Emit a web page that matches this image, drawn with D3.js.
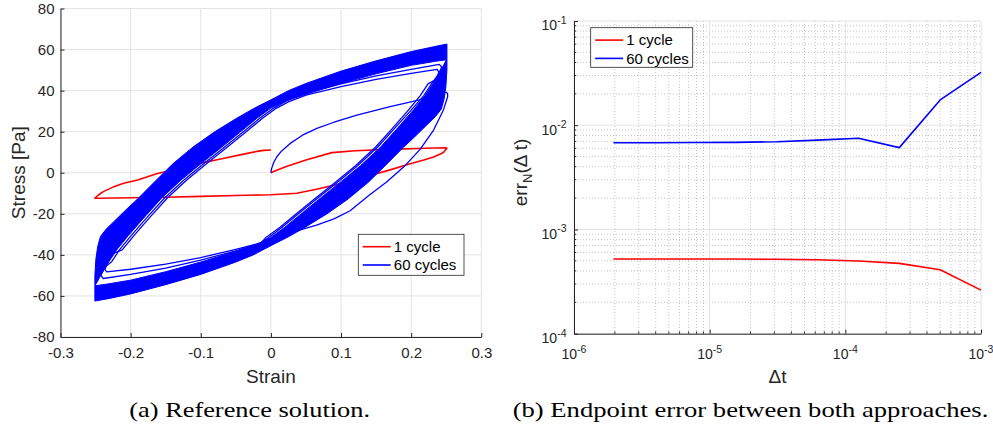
<!DOCTYPE html>
<html>
<head>
<meta charset="utf-8">
<script src="https://cdn.jsdelivr.net/npm/d3@7"></script>
<style>
  body { margin: 0; background: #fff; }
  svg text { font-family: "Liberation Sans", Arial, Helvetica, sans-serif; fill: #262626; }
  svg text.caption { font-family: "Liberation Serif", "Times New Roman", serif; fill: #000; }
</style>
</head>
<body>
<svg id="fig" width="993" height="427"></svg>
<script>
  // ---------- data: panel (a), [strain, stress] ----------
  const strainTicks = [-0.3, -0.2, -0.1, 0, 0.1, 0.2, 0.3];
  const stressTicks = [-80, -60, -40, -20, 0, 20, 40, 60, 80];
  const seriesNames = ["1 cycle", "60 cycles"];
  const seriesColors = ["#ff0000", "#0000ff"];

  const redCycle = [
    [0, 0], [0.003, 0.5], [0.02, 2.8], [0.05, 6.2], [0.087, 9.8], [0.12, 10.7],
    [0.17, 11.4], [0.22, 11.9], [0.249, 12.2], [0.251, 11.9], [0.247, 10.3],
    [0.244, 9.5], [0.232, 7.7], [0.218, 6.2], [0.195, 4], [0.17, 1.4], [0.145, -1],
    [0.123, -3.4], [0.092, -5.9], [0.065, -8], [0.037, -10], [0, -10.7],
    [-0.05, -11.1], [-0.1, -11.5], [-0.15, -11.9], [-0.2, -12.2], [-0.245, -12.4],
    [-0.251, -12.4], [-0.245, -10.6], [-0.239, -9.2], [-0.225, -7], [-0.21, -5.1],
    [-0.19, -3.5], [-0.163, -0.5], [-0.13, 2.2], [-0.1, 4.7], [-0.07, 6.8],
    [-0.044, 8.7], [-0.02, 10.4], [-0.01, 10.9], [0, 11.1]
  ];

  // 60 cycles: initial loading and first unloading
  const blueFirst = [
    [0, 0], [0.001, 2], [0.004, 5], [0.0085, 7.8], [0.015, 10.5], [0.0275, 14.3],
    [0.045, 18.3], [0.0656, 21.6], [0.09, 24.6], [0.1226, 28.1], [0.17, 32.2],
    [0.2105, 35.4], [0.239, 38.2], [0.25, 39.3], [0.252, 38.5], [0.252, 37],
    [0.246, 30.6], [0.232, 20.8], [0.213, 11.5], [0.19, 3], [0.165, -4.5],
    [0.14, -11], [0.113, -18.5], [0.09, -22.5], [0.065, -25.5], [0.042, -27.8],
    [0.02, -30.5], [0, -33]
  ];
  // cycles 2 and 3, which stand apart from the dense band
  const blueCycle2 = [
    [0, -33], [-0.015, -34.3], [-0.05, -37.3], [-0.1, -41.3], [-0.15, -44.5], [-0.2, -47],
    [-0.234, -48.3], [-0.2365, -47.2], [-0.233, -43.3], [-0.223, -39], [-0.212, -37.6],
    [-0.195, -30.5], [-0.172, -21.5], [-0.148, -12.4], [-0.12, -3.5], [-0.091, 4.6],
    [-0.062, 12.5], [-0.037, 19.5], [-0.012, 26.5], [0.008, 31.5], [0.025, 34.5],
    [0.05, 37.8], [0.1, 42], [0.15, 45.5], [0.2, 48.4], [0.237, 50.3], [0.2395, 49],
    [0.236, 45.5], [0.224, 43.3], [0.213, 37.6], [0.196, 30.5], [0.173, 21.5],
    [0.149, 12.4], [0.121, 3.5], [0.092, -4.6], [0.063, -12.5], [0.038, -19.5],
    [0.013, -26.5], [-0.007, -31.5], [-0.015, -34.6]
  ];
  const blueCycle3 = [
    [-0.015, -34.6], [-0.05, -38], [-0.1, -42.6], [-0.15, -46.5], [-0.2, -49.5],
    [-0.239, -51.5], [-0.2425, -50], [-0.237, -46], [-0.227, -43.3], [-0.216, -37.6],
    [-0.199, -30.5], [-0.176, -21.5], [-0.152, -12.4], [-0.124, -3.5], [-0.095, 4.6],
    [-0.066, 12.5], [-0.041, 19.5], [-0.016, 26.5], [0.004, 31.5], [0.022, 35],
    [0.05, 38.8], [0.1, 43.3], [0.15, 47.2], [0.2, 50.4], [0.24, 52.8], [0.2435, 51.5],
    [0.239, 48], [0.229, 43.3], [0.218, 37.6], [0.2, 30.5], [0.176, 21.5], [0.152, 12.4],
    [0.124, 3.5], [0.095, -4.6], [0.066, -12.5], [0.041, -19.5], [0.016, -26.5],
    [-0.003, -31.5], [-0.015, -34.2]
  ];
  // dense band of later cycles: outer and inner loop edges
  const bandOuterUpper = [
    [-0.251, -62.5], [-0.251, -50], [-0.2495, -42], [-0.247, -36], [-0.243, -31],
    [-0.235, -27.5], [-0.22, -22.5], [-0.205, -17.5], [-0.189, -12.4], [-0.164, -3.8],
    [-0.139, 4.6], [-0.11, 12.8], [-0.08, 20], [-0.05, 26.3], [-0.025, 31.2], [0, 35.5],
    [0.025, 40], [0.05, 43.5], [0.1, 49.5], [0.15, 54.5], [0.2, 59], [0.23, 61.2], [0.251, 62.7]
  ];
  const bandOuterLower = [
    [0.251, 62.7], [0.251, 50], [0.2495, 42], [0.247, 36], [0.243, 31], [0.235, 27.5],
    [0.22, 22.5], [0.205, 17.5], [0.189, 12.4], [0.164, 3.8], [0.139, -4.6], [0.11, -12.8],
    [0.08, -20], [0.05, -26.3], [0.025, -31.2], [0, -35.5], [-0.025, -40], [-0.05, -43.5],
    [-0.1, -49.5], [-0.15, -54.5], [-0.2, -59], [-0.23, -61.2], [-0.251, -62.5]
  ];
  const bandInnerUpper = [
    [-0.25, -54.5], [-0.245, -51.5], [-0.241, -49], [-0.231, -43.3], [-0.22, -37.6],
    [-0.203, -30.5], [-0.18, -21.5], [-0.156, -12.4], [-0.128, -3.5], [-0.099, 4.6],
    [-0.07, 12.5], [-0.045, 19.5], [-0.02, 26.5], [0, 31.5], [0.015, 34], [0.03, 36],
    [0.06, 39.3], [0.1, 43.5], [0.15, 48.2], [0.2, 52.3], [0.235, 54.3], [0.25, 55]
  ];
  const bandInnerLower = [
    [0.25, 55], [0.245, 51.5], [0.241, 49], [0.231, 43.3], [0.22, 37.6], [0.203, 30.5],
    [0.18, 21.5], [0.156, 12.4], [0.128, 3.5], [0.099, -4.6], [0.07, -12.5],
    [0.045, -19.5], [0.02, -26.5], [0, -31.5], [-0.015, -34], [-0.03, -36],
    [-0.06, -39.3], [-0.1, -43.5], [-0.15, -48.2], [-0.2, -52.3], [-0.235, -54.3], [-0.25, -55]
  ];

  // ---------- data: panel (b) ----------
  const dtValues = [1.953125e-6, 3.90625e-6, 7.8125e-6, 1.5625e-5, 3.125e-5, 6.25e-5, 1.25e-4, 2.5e-4, 5e-4, 1e-3];
  const err1Cycle = [5.2e-4, 5.2e-4, 5.2e-4, 5.2e-4, 5.18e-4, 5.12e-4, 4.98e-4, 4.73e-4, 4.11e-4, 2.62e-4];
  const err60Cycles = [6.8e-3, 6.8e-3, 6.82e-3, 6.85e-3, 6.95e-3, 7.2e-3, 7.5e-3, 6.1e-3, 1.75e-2, 3.22e-2];
  const dtTicks = [1e-6, 1e-5, 1e-4, 1e-3];
  const errTicks = [1e-4, 1e-3, 1e-2, 1e-1];

  const captions = ["(a) Reference solution.", "(b) Endpoint error between both approaches."];

  // ---------- layout ----------
  const A = { left: 60.5, right: 481.3, top: 8.5, bottom: 337 };
  const B = { left: 574, right: 981, top: 21, bottom: 333.7 };
  const axisColor = "#262626";
  const gridColor = "#e3e3e3";
  const minorGridColor = "#c4c4c4";

  const svg = d3.select("#fig");

  function legend(g, x0, y0, w, h) {
    const lg = g.append("g").attr("transform", `translate(${x0},${y0})`);
    lg.append("rect").attr("width", w).attr("height", h)
      .attr("fill", "#fff").attr("stroke", axisColor).attr("stroke-width", 0.8);
    seriesNames.forEach((name, i) => {
      const cy = 12.4 + i * 18.3;
      lg.append("line").attr("x1", 4.4).attr("x2", 32.4).attr("y1", cy).attr("y2", cy)
        .attr("stroke", seriesColors[i]).attr("stroke-width", 1.6);
      lg.append("text").attr("x", 35.5).attr("y", cy + 5.3)
        .attr("font-size", 15).style("fill", "#000").text(name);
    });
  }

  // ---------- panel (a) ----------
  const x1 = d3.scaleLinear().domain([-0.3, 0.3]).range([A.left, A.right]);
  const y1 = d3.scaleLinear().domain([-80, 80]).range([A.bottom, A.top]);
  const pa = svg.append("g");

  pa.append("g").selectAll("line").data(strainTicks).join("line")
    .attr("x1", d => x1(d)).attr("x2", d => x1(d))
    .attr("y1", A.top).attr("y2", A.bottom).attr("stroke", gridColor);
  pa.append("g").selectAll("line").data(stressTicks).join("line")
    .attr("y1", d => y1(d)).attr("y2", d => y1(d))
    .attr("x1", A.left).attr("x2", A.right).attr("stroke", gridColor);

  const line1 = d3.line().x(d => x1(d[0])).y(d => y1(d[1]));

  pa.append("path").attr("d", line1(redCycle))
    .attr("fill", "none").attr("stroke", seriesColors[0])
    .attr("stroke-width", 1.6).attr("stroke-linejoin", "round");

  const bandPath = line1(bandOuterUpper.concat(bandOuterLower)) + "Z" +
    line1(bandInnerUpper.concat(bandInnerLower)) + "Z";
  pa.append("path").attr("d", bandPath)
    .attr("fill", seriesColors[1]).attr("fill-rule", "evenodd")
    .attr("stroke", seriesColors[1]).attr("stroke-width", 1).attr("stroke-linejoin", "round");

  [blueFirst, blueCycle2, blueCycle3].forEach(pts => {
    pa.append("path").attr("d", line1(pts))
      .attr("fill", "none").attr("stroke", seriesColors[1])
      .attr("stroke-width", 1.3).attr("stroke-linejoin", "round");
  });

  const ax1 = pa.append("g").attr("transform", `translate(0,${A.bottom})`)
    .call(d3.axisBottom(x1).tickValues(strainTicks).tickSize(-4).tickSizeOuter(0)
      .tickPadding(10).tickFormat(d => String(d)));
  const ay1 = pa.append("g").attr("transform", `translate(${A.left},0)`)
    .call(d3.axisLeft(y1).tickValues(stressTicks).tickSize(-4).tickSizeOuter(0)
      .tickPadding(6).tickFormat(d => String(d)));
  [ax1, ay1].forEach(a => a.attr("color", axisColor).attr("font-size", 15));

  pa.append("text").attr("x", (A.left + A.right) / 2).attr("y", 382.5)
    .attr("text-anchor", "middle").attr("font-size", 19).text("Strain");
  pa.append("text").attr("transform", "translate(25,172.7) rotate(-90)")
    .attr("text-anchor", "middle").attr("font-size", 19).text("Stress [Pa]");

  legend(pa, 358.3, 234.3, 105.7, 41);

  // ---------- panel (b) ----------
  const x2 = d3.scaleLog().domain([1e-6, 1e-3]).range([B.left, B.right]);
  const y2 = d3.scaleLog().domain([1e-4, 1e-1]).range([B.bottom, B.top]);
  const pb = svg.append("g");

  const isMinor = d => Math.abs(Math.log10(d) - Math.round(Math.log10(d))) > 1e-6;
  const xMinor = x2.ticks().filter(isMinor);
  const yMinor = y2.ticks().filter(isMinor);

  pb.append("g").selectAll("line").data(xMinor).join("line")
    .attr("x1", d => x2(d)).attr("x2", d => x2(d))
    .attr("y1", B.top).attr("y2", B.bottom)
    .attr("stroke", minorGridColor).attr("stroke-dasharray", "1,2");
  pb.append("g").selectAll("line").data(yMinor).join("line")
    .attr("y1", d => y2(d)).attr("y2", d => y2(d))
    .attr("x1", B.left).attr("x2", B.right)
    .attr("stroke", minorGridColor).attr("stroke-dasharray", "1,2");
  pb.append("g").selectAll("line").data(dtTicks).join("line")
    .attr("x1", d => x2(d)).attr("x2", d => x2(d))
    .attr("y1", B.top).attr("y2", B.bottom).attr("stroke", gridColor);
  pb.append("g").selectAll("line").data(errTicks).join("line")
    .attr("y1", d => y2(d)).attr("y2", d => y2(d))
    .attr("x1", B.left).attr("x2", B.right).attr("stroke", gridColor);

  const line2 = d3.line().x(d => x2(d[0])).y(d => y2(d[1]));
  [err1Cycle, err60Cycles].forEach((vals, i) => {
    pb.append("path").attr("d", line2(dtValues.map((t, k) => [t, vals[k]])))
      .attr("fill", "none").attr("stroke", seriesColors[i])
      .attr("stroke-width", 1.6).attr("stroke-linejoin", "round");
  });

  const ax2 = pb.append("g").attr("transform", `translate(0,${B.bottom})`)
    .call(d3.axisBottom(x2).tickValues(dtTicks).tickSize(-4).tickSizeOuter(0).tickFormat(""));
  const ay2 = pb.append("g").attr("transform", `translate(${B.left},0)`)
    .call(d3.axisLeft(y2).tickValues(errTicks).tickSize(-4).tickSizeOuter(0).tickFormat(""));
  [ax2, ay2].forEach(a => a.attr("color", axisColor));

  // minor ticks
  pb.append("g").selectAll("line").data(xMinor).join("line")
    .attr("x1", d => x2(d)).attr("x2", d => x2(d))
    .attr("y1", B.bottom).attr("y2", B.bottom - 2.2).attr("stroke", axisColor);
  pb.append("g").selectAll("line").data(yMinor).join("line")
    .attr("y1", d => y2(d)).attr("y2", d => y2(d))
    .attr("x1", B.left).attr("x2", B.left + 2.2).attr("stroke", axisColor);

  // power-of-ten tick labels
  function powLabel(sel) {
    sel.append("tspan").text("10");
    sel.append("tspan").attr("dy", -6.5).attr("font-size", 10.5)
      .text(d => String(Math.round(Math.log10(d))));
  }
  pb.append("g").selectAll("text").data(dtTicks).join("text")
    .attr("x", d => x2(d)).attr("y", B.bottom + 25.5)
    .attr("text-anchor", "middle").attr("font-size", 14).call(powLabel);
  pb.append("g").selectAll("text").data(errTicks).join("text")
    .attr("x", B.left - 7.5).attr("y", d => y2(d) + 9.3)
    .attr("text-anchor", "end").attr("font-size", 14).call(powLabel);

  pb.append("text").attr("x", (B.left + B.right) / 2).attr("y", 382.5)
    .attr("text-anchor", "middle").attr("font-size", 19).text("\u0394t");
  const yl = pb.append("text").attr("transform", "translate(526.5,172.5) rotate(-90)")
    .attr("text-anchor", "middle").attr("font-size", 19);
  yl.append("tspan").text("err");
  yl.append("tspan").attr("dy", 5).attr("font-size", 13).text("N");
  yl.append("tspan").attr("dy", -5).text("(\u0394 t)");

  legend(pb, 590.7, 27.7, 102, 39.6);

  // ---------- captions ----------
  svg.append("text").attr("class", "caption").attr("x", 129.3).attr("y", 416.5)
    .attr("font-size", 21).attr("textLength", 240.7).attr("lengthAdjust", "spacingAndGlyphs")
    .text(captions[0]);
  svg.append("text").attr("class", "caption").attr("x", 512.7).attr("y", 416.5)
    .attr("font-size", 21).attr("textLength", 475.6).attr("lengthAdjust", "spacingAndGlyphs")
    .text(captions[1]);
</script>
</body>
</html>
